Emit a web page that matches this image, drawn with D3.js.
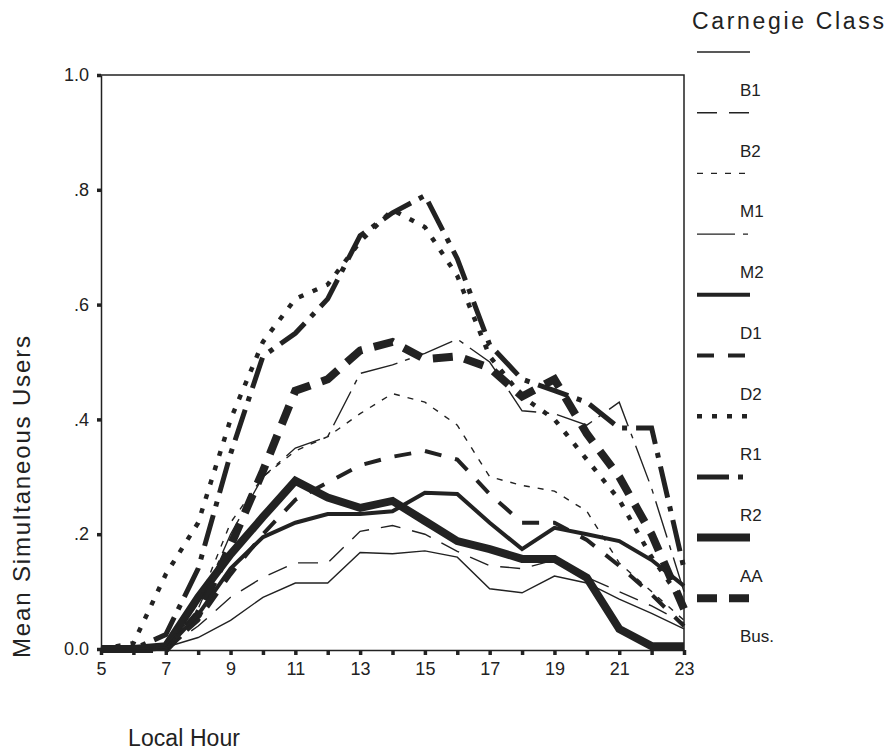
<!DOCTYPE html>
<html>
<head>
<meta charset="utf-8">
<script src="https://cdn.jsdelivr.net/npm/d3@7"></script>
<style>
  body { margin: 0; background: #fff; }
  text { font-family: "Liberation Sans", Arial, sans-serif; fill: #222; }
</style>
</head>
<body>
<div id="chart"></div>
<script>
// Mean simultaneous users by local hour, one line per Carnegie class
var hours = [5, 6, 7, 8, 9, 10, 11, 12, 13, 14, 15, 16, 17, 18, 19, 20, 21, 22, 23];
var classes = ["B1", "B2", "M1", "M2", "D1", "D2", "R1", "R2", "AA", "Bus."];

var b1 = [0, 0, 0.003, 0.02, 0.05, 0.09, 0.115, 0.115, 0.168, 0.166, 0.171, 0.16, 0.105, 0.098, 0.127, 0.115, 0.087, 0.062, 0.035];
var b2 = [0, 0, 0, 0.04, 0.09, 0.125, 0.15, 0.15, 0.205, 0.215, 0.2, 0.17, 0.145, 0.14, 0.155, 0.125, 0.1, 0.075, 0.045];
var m1 = [0, 0, 0, 0.08, 0.22, 0.3, 0.345, 0.37, 0.41, 0.445, 0.43, 0.39, 0.3, 0.285, 0.275, 0.24, 0.15, 0.1, 0.05];
var m2 = [0, 0, 0, 0.07, 0.2, 0.3, 0.35, 0.37, 0.48, 0.495, 0.515, 0.54, 0.5, 0.415, 0.41, 0.39, 0.43, 0.28, 0.1];
var d1 = [0, 0, 0, 0.06, 0.14, 0.195, 0.22, 0.235, 0.235, 0.24, 0.272, 0.27, 0.22, 0.174, 0.211, 0.2, 0.188, 0.155, 0.11];
var d2 = [0, 0, 0, 0.05, 0.13, 0.2, 0.26, 0.29, 0.32, 0.335, 0.345, 0.33, 0.27, 0.22, 0.22, 0.19, 0.145, 0.095, 0.04];
var r1 = [0, 0.01, 0.13, 0.22, 0.4, 0.535, 0.61, 0.635, 0.71, 0.765, 0.735, 0.65, 0.51, 0.44, 0.4, 0.33, 0.26, 0.16, 0.08];
var r2 = [0, 0, 0.025, 0.14, 0.34, 0.51, 0.55, 0.61, 0.72, 0.76, 0.79, 0.68, 0.53, 0.47, 0.45, 0.43, 0.385, 0.385, 0.14];
var aa = [0, 0, 0.005, 0.09, 0.165, 0.23, 0.293, 0.264, 0.246, 0.258, 0.223, 0.188, 0.174, 0.157, 0.157, 0.124, 0.035, 0.005, 0.005];
var bus = [0, 0, 0, 0.06, 0.18, 0.31, 0.45, 0.47, 0.52, 0.535, 0.505, 0.51, 0.49, 0.44, 0.47, 0.375, 0.3, 0.2, 0.07];

var yTicks = [0, 0.2, 0.4, 0.6, 0.8, 1.0];
var yTickLabels = ["0.0", ".2", ".4", ".6", ".8", "1.0"];
var xTickLabels = [5, 7, 9, 11, 13, 15, 17, 19, 21, 23];

var seriesValues = [b1, b2, m1, m2, d1, d2, r1, r2, aa, bus];

// line look for each class (width, dash pattern)
var styles = {
  "B1": { w: 1.4, dash: null },
  "B2": { w: 1.4, dash: "20,12" },
  "M1": { w: 1.4, dash: "6,8" },
  "M2": { w: 1.4, dash: "38,8,5,8" },
  "D1": { w: 4, dash: null },
  "D2": { w: 4, dash: "17,14" },
  "R1": { w: 4.5, dash: "5,10" },
  "R2": { w: 5, dash: "32,9,5,9" },
  "AA": { w: 8, dash: null },
  "Bus.": { w: 8, dash: "20,12" }
};

var width = 889, height = 751;
var plot = { left: 101, right: 684, top: 75, bottom: 649 };

var svg = d3
  .select("#chart")
  .append("svg")
  .attr("width", width)
  .attr("height", height);

var x = d3.scaleLinear().domain([5, 23]).range([plot.left, plot.right]);
var y = d3.scaleLinear().domain([0, 1]).range([plot.bottom, plot.top]);

// frame top and right
svg
  .append("path")
  .attr("d", "M" + x(5) + "," + y(1) + "H" + x(23) + "V" + (plot.bottom + 1))
  .attr("fill", "none")
  .attr("stroke", "#222")
  .attr("stroke-width", 1.5);

// X axis
var xAxis = svg
  .append("g")
  .attr("transform", "translate(0," + (plot.bottom + 1) + ")")
  .call(
    d3
      .axisBottom(x)
      .tickValues(hours)
      .tickSize(5)
      .tickSizeOuter(0)
      .tickPadding(7)
      .tickFormat(function (d) {
        return xTickLabels.indexOf(d) >= 0 ? d : "";
      })
  );
xAxis.select(".domain").attr("stroke", "#222").attr("stroke-width", 1.5);
xAxis.selectAll(".tick line").attr("stroke", "#222").attr("stroke-width", 3.5);
xAxis.selectAll(".tick text").style("font-size", "18px").attr("fill", "#222");

// Y axis
var yAxis = svg
  .append("g")
  .attr("transform", "translate(" + plot.left + ",0)")
  .call(
    d3
      .axisLeft(y)
      .tickValues(yTicks)
      .tickSize(4)
      .tickSizeOuter(0)
      .tickPadding(8)
      .tickFormat(function (d, i) {
        return yTickLabels[i];
      })
  );
yAxis.select(".domain").attr("stroke", "#222").attr("stroke-width", 1.5);
yAxis.selectAll(".tick line").attr("stroke", "#222").attr("stroke-width", 3.5);
yAxis.selectAll(".tick text").style("font-size", "18px").attr("fill", "#222");

// axis titles
svg
  .append("text")
  .attr("transform", "translate(30,497) rotate(-90)")
  .attr("text-anchor", "middle")
  .attr("textLength", 322)
  .style("font-size", "24px")
  .text("Mean Simultaneous Users");

svg
  .append("text")
  .attr("x", 128)
  .attr("y", 746)
  .attr("textLength", 112)
  .style("font-size", "23px")
  .text("Local Hour");

// lines
var line = d3
  .line()
  .x(function (d, i) {
    return x(hours[i]);
  })
  .y(function (d) {
    return y(d);
  });

var drawOrder = [8, 9, 7, 6, 4, 5, 3, 2, 1, 0];
drawOrder.forEach(function (k) {
  var st = styles[classes[k]];
  svg
    .append("path")
    .datum(seriesValues[k])
    .attr("d", line)
    .attr("fill", "none")
    .attr("stroke", "#222")
    .attr("stroke-width", st.w)
    .attr("stroke-dasharray", st.dash);
});

// legend
svg
  .append("text")
  .attr("x", 692)
  .attr("y", 29)
  .attr("textLength", 192)
  .style("font-size", "23px")
  .text("Carnegie Class");

var legend = svg
  .selectAll(".legend-item")
  .data(classes)
  .enter()
  .append("g")
  .attr("class", "legend-item")
  .attr("transform", function (d, i) {
    return "translate(697," + (52 + i * 60.7) + ")";
  });

legend
  .append("line")
  .attr("x1", 0)
  .attr("x2", 53)
  .attr("stroke", "#222")
  .attr("stroke-width", function (d) {
    return styles[d].w;
  })
  .attr("stroke-dasharray", function (d) {
    return styles[d].dash;
  });

legend
  .append("text")
  .attr("x", 43)
  .attr("y", 44)
  .style("font-size", "17px")
  .text(function (d) {
    return d;
  });
</script>
</body>
</html>
